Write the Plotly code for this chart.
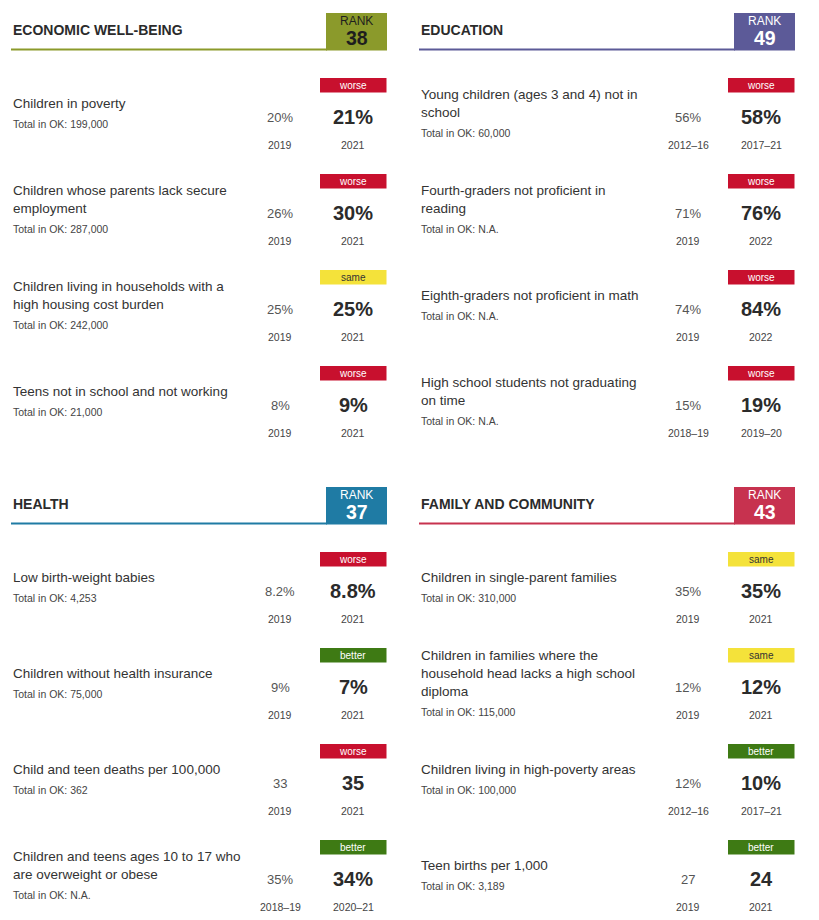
import plotly.graph_objects as go

# domain headers
domains = ['ECONOMIC WELL-BEING', 'EDUCATION', 'HEALTH', 'FAMILY AND COMMUNITY']
ranks = [38, 49, 37, 43]
domain_colors = ['#8b9a2b', '#5c5a98', '#1f7ba4', '#c7324f']
rank_text_colors = ['#1e1e1e', 'white', 'white', 'white']

# indicators per domain (4 rows each)
indicators = [
    ['Children in poverty',
     'Children whose parents lack secure<br>employment',
     'Children living in households with a<br>high housing cost burden',
     'Teens not in school and not working'],
    ['Young children (ages 3 and 4) not in<br>school',
     'Fourth-graders not proficient in<br>reading',
     'Eighth-graders not proficient in math',
     'High school students not graduating<br>on time'],
    ['Low birth-weight babies',
     'Children without health insurance',
     'Child and teen deaths per 100,000',
     'Children and teens ages 10 to 17 who<br>are overweight or obese'],
    ['Children in single-parent families',
     'Children in families where the<br>household head lacks a high school<br>diploma',
     'Children living in high-poverty areas',
     'Teen births per 1,000'],
]
totals = [
    ['199,000', '287,000', '242,000', '21,000'],
    ['60,000', 'N.A.', 'N.A.', 'N.A.'],
    ['4,253', '75,000', '362', 'N.A.'],
    ['310,000', '115,000', '100,000', '3,189'],
]
old_values = [['20%', '26%', '25%', '8%'],
              ['56%', '71%', '74%', '15%'],
              ['8.2%', '9%', '33', '35%'],
              ['35%', '12%', '12%', '27']]
new_values = [['21%', '30%', '25%', '9%'],
              ['58%', '76%', '84%', '19%'],
              ['8.8%', '7%', '35', '34%'],
              ['35%', '12%', '10%', '24']]
old_years = [['2019', '2019', '2019', '2019'],
             ['2012–16', '2019', '2019', '2018–19'],
             ['2019', '2019', '2019', '2018–19'],
             ['2019', '2019', '2012–16', '2019']]
new_years = [['2021', '2021', '2021', '2021'],
             ['2017–21', '2022', '2022', '2019–20'],
             ['2021', '2021', '2021', '2020–21'],
             ['2021', '2021', '2017–21', '2021']]
trends = [['worse', 'worse', 'same', 'worse'],
          ['worse', 'worse', 'worse', 'worse'],
          ['worse', 'better', 'worse', 'better'],
          ['same', 'same', 'better', 'better']]

trend_colors = {'worse': '#c8102e', 'same': '#f4e23a', 'better': '#3e7a14'}
trend_text = {'worse': 'white', 'same': '#333333', 'better': 'white'}

FONT = 'Liberation Sans, Arial, sans-serif'
W, H = 819, 920
PAD = 8  # page body margin, so axis units line up with page pixels

fig = go.Figure()
shapes = []
annots = []


def txt(x, y, text, size, color, xanchor='center', bold=False):
    annots.append(dict(x=x, y=y, xref='x', yref='y', text=f'<b>{text}</b>' if bold else text,
                       showarrow=False, xanchor=xanchor, yanchor='middle',
                       font=dict(family=FONT, size=size, color=color)))


for d in range(4):
    dx = 408 * (d % 2)
    dy = 474 * (d // 2)
    col = domain_colors[d]

    # header, underline and rank box
    txt(11 + dx, 30 + dy, domains[d], 14, '#2b2b2b', xanchor='left', bold=True)
    shapes.append(dict(type='line', xref='x', yref='y', x0=11 + dx, x1=327 + dx,
                       y0=49.5 + dy, y1=49.5 + dy, line=dict(color=col, width=2)))
    shapes.append(dict(type='rect', xref='x', yref='y', x0=326 + dx, x1=387 + dx,
                       y0=13 + dy, y1=50.5 + dy, fillcolor=col, line=dict(width=0)))
    txt(356.5 + dx, 21 + dy, 'RANK', 12, rank_text_colors[d])
    txt(356.5 + dx, 37.5 + dy, str(ranks[d]), 19.5, rank_text_colors[d], bold=True)

    for r in range(4):
        ry = dy + 96 * r
        vy = 117 + ry
        lines = indicators[d][r].split('<br>')
        n = len(lines)
        top = vy - 14 - 9 * (n - 1)
        for i, ln in enumerate(lines):
            txt(11 + dx, top + 18 * i, ln, 13.5, '#333333', xanchor='left')
        txt(11 + dx, top + 18 * (n - 1) + 20.5, 'Total in OK: ' + totals[d][r], 10.5, '#444444', xanchor='left')

        t = trends[d][r]
        shapes.append(dict(type='rect', xref='x', yref='y', x0=320 + dx, x1=386.5 + dx,
                           y0=78 + ry, y1=92.5 + ry, fillcolor=trend_colors[t], line=dict(width=0)))
        txt(353.3 + dx, 85.3 + ry, t, 10, trend_text[t])

        txt(280 + dx, vy, old_values[d][r], 13, '#555555')
        txt(353.3 + dx, vy, new_values[d][r], 20, '#2b2b2b', bold=True)
        txt(280 + dx, 144.5 + ry, old_years[d][r], 10.5, '#444444')
        txt(353.3 + dx, 144.5 + ry, new_years[d][r], 10.5, '#444444')

fig.update_layout(
    width=W - PAD, height=H - PAD,
    margin=dict(l=0, r=0, t=0, b=0),
    paper_bgcolor='white', plot_bgcolor='white',
    xaxis=dict(range=[PAD, W], visible=False, fixedrange=True),
    yaxis=dict(range=[H, PAD], visible=False, fixedrange=True),
    shapes=shapes, annotations=annots, showlegend=False,
)

fig.write_html('out.html')
